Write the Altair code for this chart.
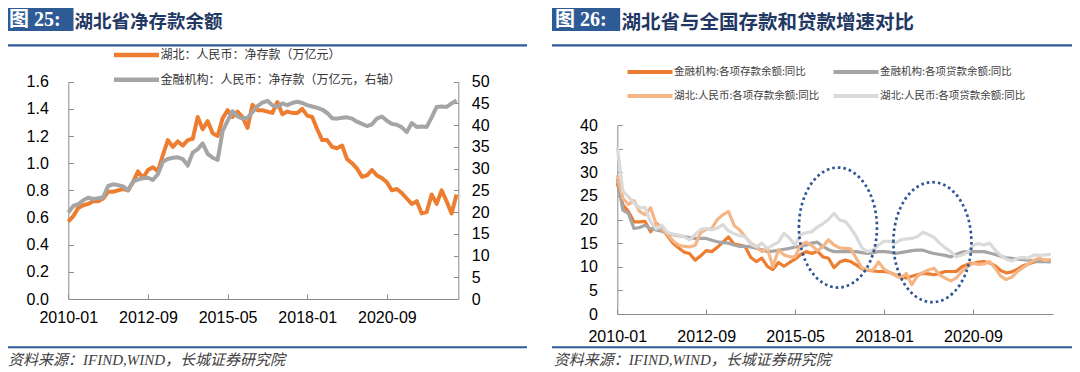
import altair as alt
import pandas as pd

# ---------------- data (one value every 2 months, starting 2010-01) ----------------
STEP_MONTHS = 2

# 湖北：人民币：净存款（万亿元） - left axis
hubei_net_deposit = [
    0.57, 0.61, 0.67, 0.69, 0.70, 0.72, 0.72, 0.74, 0.79, 0.79,
    0.80, 0.81, 0.80, 0.86, 0.94, 0.89, 0.95, 0.97, 0.94, 1.06,
    1.17, 1.12, 1.16, 1.13, 1.17, 1.18, 1.34, 1.25, 1.31, 1.22,
    1.20, 1.33, 1.39, 1.34, 1.38, 1.34, 1.26, 1.43, 1.39, 1.39,
    1.38, 1.37, 1.45, 1.36, 1.38, 1.37, 1.37, 1.40, 1.35, 1.34,
    1.25, 1.17, 1.17, 1.12, 1.11, 1.13, 1.03, 1.00, 0.96, 0.90,
    0.91, 0.95, 0.91, 0.89, 0.86, 0.80, 0.81, 0.78, 0.74, 0.70,
    0.72, 0.63, 0.64, 0.77, 0.70, 0.80, 0.72, 0.63, 0.77,
]
# 金融机构：人民币：净存款（万亿元，右轴）
fi_net_deposit = [
    19.9, 21.4, 21.8, 22.7, 23.3, 23.0, 23.2, 23.4, 26.0, 26.4,
    26.2, 25.9, 25.0, 27.0, 27.5, 27.8, 27.9, 27.4, 28.7, 31.6,
    32.2, 32.5, 32.6, 32.2, 30.7, 33.7, 34.5, 35.8, 33.4, 32.5,
    32.0, 38.6, 41.0, 43.2, 42.0, 41.5, 41.7, 43.0, 44.4, 45.2,
    45.6, 44.6, 44.2, 45.0, 44.6, 45.1, 45.4, 45.1, 44.6, 44.3,
    44.0, 43.6, 42.8, 41.6, 41.5, 41.7, 41.8, 41.5, 40.8, 40.3,
    39.8, 40.2, 41.5, 42.0, 41.0, 40.3, 40.1, 39.5, 38.4, 40.5,
    39.6, 39.7, 39.6, 41.8, 44.2, 44.3, 44.2, 45.0, 45.7,
]
# 金融机构:各项存款余额:同比
fi_deposit_yoy = [
    27.7, 23.1, 21.7, 19.5, 19.5, 19.6, 17.4, 19.2, 18.1, 16.6,
    15.0, 14.0, 13.1, 12.8, 11.4, 12.3, 13.4, 13.2, 14.1, 15.2,
    16.3, 14.8, 14.6, 14.3, 12.0, 11.1, 11.8, 10.1, 9.4, 10.9,
    10.1, 10.9, 11.6, 12.6, 13.2, 12.8, 13.3, 12.1, 11.8, 9.8,
    11.0, 11.4, 11.1, 10.4, 9.6, 9.3, 9.1, 9.0, 9.0, 8.8,
    8.3, 8.0, 7.6, 8.0, 8.3, 8.6, 8.5, 8.3, 8.6, 9.0,
    9.0, 9.0, 10.0, 10.5, 10.7, 11.0, 11.1, 10.8, 10.2, 9.2,
    8.7, 8.9, 9.5, 10.2, 10.6, 11.0, 11.2, 11.4, 11.3,
]
# 金融机构:各项贷款余额:同比
fi_loan_yoy = [
    28.7, 22.0, 21.3, 18.1, 18.3, 18.8, 18.0, 17.8, 17.5, 17.1,
    16.8, 16.6, 16.4, 16.2, 16.0, 16.0, 16.0, 15.6, 15.3, 15.1,
    15.0, 14.6, 14.3, 14.3, 14.2, 13.9, 13.6, 13.2, 13.3, 13.5,
    13.7, 13.9, 14.2, 14.3, 14.6, 15.0, 15.2, 14.3, 13.6, 13.2,
    13.2, 13.2, 13.2, 13.2, 13.0, 12.8, 13.0, 13.2, 13.2, 13.1,
    12.8, 13.0, 13.2, 13.4, 13.5, 13.5, 13.1, 12.8, 12.6, 12.4,
    12.1, 12.6, 13.1, 13.2, 13.2, 13.2, 13.2, 12.9, 12.6, 12.2,
    11.9, 11.8, 11.6, 11.5, 11.4, 11.2, 11.1, 11.1, 11.0,
]
# 湖北:人民币:各项存款余额:同比
hubei_deposit_yoy = [
    29.4, 24.5, 23.2, 24.0, 21.7, 21.0, 22.5, 19.0, 18.0, 16.9,
    15.5, 14.6, 14.3, 14.2, 14.5, 17.2, 17.9, 18.1, 20.0, 21.0,
    21.7, 18.8, 17.8, 16.4, 15.0, 14.3, 13.2, 13.9, 10.0, 13.6,
    12.5, 12.1, 12.1, 14.6, 15.2, 14.5, 13.4, 14.3, 15.7, 14.6,
    14.0, 13.9, 13.8, 11.8, 9.8, 9.3, 9.3, 11.0, 9.5, 8.8,
    8.2, 7.6, 8.6, 6.2, 8.0, 8.8, 9.3, 9.7, 8.3, 7.6,
    7.0, 7.6, 9.0, 10.0, 10.7, 10.5, 10.6, 11.1, 9.7, 8.0,
    7.3, 7.8, 9.0, 9.8, 10.6, 11.4, 11.8, 11.3, 11.6,
]
# 湖北:人民币:各项贷款余额:同比
hubei_loan_yoy = [
    35.4, 26.0, 24.8, 23.5, 22.5, 22.5, 19.5, 18.0, 18.8, 17.3,
    16.9, 16.7, 16.4, 15.7, 16.8, 17.9, 18.1, 17.8, 18.2, 18.9,
    17.6, 17.0, 16.6, 16.4, 14.8, 14.2, 15.0, 13.9, 14.6, 15.2,
    17.1, 16.0, 14.6, 16.8, 17.2, 17.4, 18.4, 19.1, 20.0, 21.3,
    19.9, 19.6, 18.2, 16.4, 14.0, 13.2, 13.5, 14.6, 15.4, 15.4,
    15.0, 15.7, 15.9, 16.0, 16.4, 17.3, 16.8, 16.2, 15.0, 14.0,
    13.2, 12.1, 12.5, 13.0, 14.5, 14.9, 14.6, 15.0, 13.5, 12.4,
    11.6, 11.2, 11.8, 12.0, 11.8, 12.5, 12.4, 12.5, 12.6,
]

LEFT_SERIES = ["湖北：人民币：净存款（万亿元）", "金融机构：人民币：净存款（万亿元，右轴）"]
RIGHT_SERIES = ["金融机构:各项存款余额:同比", "金融机构:各项贷款余额:同比",
                "湖北:人民币:各项存款余额:同比", "湖北:人民币:各项贷款余额:同比"]
LEFT_COLORS = ["#ED7D31", "#A5A5A5"]
RIGHT_COLORS = ["#ED7D31", "#A5A5A5", "#F5B687", "#DADADA"]
# legend fills column by column: col 1 = deposits, col 2 = loans
RIGHT_LEGEND_ORDER = [0, 2, 1, 3]

X_TICKS = [0, 32, 64, 96, 128]          # 2010-01, 2012-09, 2015-05, 2018-01, 2020-09
LEFT_Y_TICKS = [0.0, 0.2, 0.4, 0.6, 0.8, 1.0, 1.2, 1.4, 1.6]
LEFT_Y2_TICKS = [0, 5, 10, 15, 20, 25, 30, 35, 40, 45, 50]
RIGHT_Y_TICKS = [0, 5, 10, 15, 20, 25, 30, 35, 40]

# highlighted periods (month index, value) for the dotted ellipses
ELLIPSE_MONTH = [79.4, 113.4]
ELLIPSE_VALUE = [18.3, 15.2]

TITLE_LEFT_TAG = "图 25:"
TITLE_LEFT = "湖北省净存款余额"
TITLE_RIGHT_TAG = "图 26:"
TITLE_RIGHT = "湖北省与全国存款和贷款增速对比"
SOURCE = "资料来源：IFIND,WIND，长城证券研究院"

# ---------------- tables ----------------
n = len(hubei_net_deposit)
months = [i * STEP_MONTHS for i in range(n)]
left_df = pd.DataFrame({
    "m": months * 2,
    "series": [LEFT_SERIES[0]] * n + [LEFT_SERIES[1]] * n,
    "value": hubei_net_deposit + fi_net_deposit,
})
right_lists = [fi_deposit_yoy, fi_loan_yoy, hubei_deposit_yoy, hubei_loan_yoy]
right_df = pd.DataFrame({
    "m": months * 4,
    "series": [s for s in RIGHT_SERIES for _ in range(n)],
    "value": [v for lst in right_lists for v in lst],
})
ell_df = pd.DataFrame({"m": ELLIPSE_MONTH, "value": ELLIPSE_VALUE})
one = pd.DataFrame({"k": [0]})

# ---------------- geometry (chart px; page = chart + 8) ----------------
W, H = 1064, 364
L_X0, L_X1 = 60.3, 450.3
L_Y0, L_Y1 = 291.0, 73.7
R_X0, R_X1 = 609.3, 1045.0
R_Y0, R_Y1 = 306.0, 117.0

AX = "#8C8C8C"
LBL_FONT = "Liberation Sans"
CJK = "Noto Sans CJK SC"
NAVY = "#2E5A96"
MONTH_LABEL = ("(2010 + floor(datum.value / 12)) + '-' + "
               "((datum.value % 12) < 9 ? '0' : '') + ((datum.value % 12) + 1)")
ELLIPSE = "M -0.65 0 A 0.65 1 0 1 1 0.65 0 A 0.65 1 0 1 1 -0.65 0 Z"
# long horizontal legend line: 8 units wide; with size 126.6 -> r = 5.625 -> 45 px
LEGEND_LINE = "M -4 0 L 4 0"
LEGEND_LINE_SIZE = 126.6

lx_scale = alt.Scale(domain=[0, 156.7], range=[L_X0, L_X1], nice=False, zero=False)
ly_scale = alt.Scale(domain=[0, 1.6], range=[L_Y0, L_Y1], nice=False)
ly2_scale = alt.Scale(domain=[0, 50], range=[L_Y0, L_Y1], nice=False)
rx_scale = alt.Scale(domain=[0, 156.8], range=[R_X0, R_X1], nice=False, zero=False)
ry_scale = alt.Scale(domain=[0, 40], range=[R_Y0, R_Y1], nice=False)


def label_axis(orient, offset, values, pad, fmt=None, expr=None):
    kw = dict(orient=orient, offset=offset, values=values, ticks=False, domain=True,
              domainColor=AX, domainWidth=1, grid=False, labelFont=LBL_FONT,
              labelFontSize=16, labelColor="#000000", labelPadding=pad,
              labelFlush=False, labelOverlap=False)
    if fmt:
        kw["format"] = fmt
    if expr:
        kw["labelExpr"] = expr
    return alt.Axis(**kw)


def tick_axis(orient, offset, values):
    return alt.Axis(orient=orient, offset=offset, values=values, ticks=True, tickSize=5,
                    tickColor=AX, tickWidth=1, labels=False, domain=False, grid=False)


def axis_layer(df, channel, scale, axis):
    if channel == "x":
        return alt.Chart(df).mark_point(opacity=0).encode(
            x=alt.X("m:Q", scale=scale, title=None, axis=axis))
    return alt.Chart(df).mark_point(opacity=0).encode(
        y=alt.Y("value:Q", scale=scale, title=None, axis=axis))


# ---------------- left panel ----------------
left_legend = alt.Legend(orient="none", legendX=120.5, legendY=39, title=None,
                         symbolType=LEGEND_LINE, symbolSize=LEGEND_LINE_SIZE,
                         symbolStrokeWidth=4.5, labelFont=CJK, labelFontSize=12,
                         labelColor="#333333", labelLimit=400, labelOffset=16,
                         rowPadding=6.7, padding=0)
lc = alt.Color("series:N", scale=alt.Scale(domain=LEFT_SERIES, range=LEFT_COLORS),
               legend=left_legend)

left_orange = alt.Chart(left_df).transform_filter(
    alt.datum.series == LEFT_SERIES[0]
).mark_line(strokeWidth=4, strokeJoin="round").encode(
    x=alt.X("m:Q", scale=lx_scale, title=None, axis=None),
    y=alt.Y("value:Q", scale=ly_scale, title=None, axis=None),
    color=lc,
)
left_gray = alt.Chart(left_df).transform_filter(
    alt.datum.series == LEFT_SERIES[1]
).mark_line(strokeWidth=4, strokeJoin="round").encode(
    x=alt.X("m:Q", scale=lx_scale, title=None, axis=None),
    y=alt.Y("value:Q", scale=ly2_scale, title=None, axis=None),
    color=lc,
)
left_panel = alt.layer(left_orange, left_gray).resolve_scale(y="independent")

left_axes = [
    axis_layer(left_df, "x", lx_scale,
               label_axis("bottom", L_Y0 - H, X_TICKS, 10, expr=MONTH_LABEL)),
    axis_layer(left_df, "x", lx_scale, tick_axis("top", -L_Y0, X_TICKS)),
    axis_layer(left_df, "y", ly_scale,
               label_axis("left", -L_X0, LEFT_Y_TICKS, 20, fmt=".1f")),
    axis_layer(left_df, "y", ly_scale, tick_axis("right", L_X0 - W, LEFT_Y_TICKS)),
    axis_layer(left_df, "y", ly2_scale,
               label_axis("right", L_X1 - W, LEFT_Y2_TICKS, 13, fmt="d")),
    axis_layer(left_df, "y", ly2_scale, tick_axis("left", -L_X1, LEFT_Y2_TICKS)),
]

# ---------------- right panel ----------------
right_legend = alt.Legend(orient="none", legendX=634, legendY=56, title=None, columns=2,
                          columnPadding=5, rowPadding=8, symbolType=LEGEND_LINE,
                          symbolSize=LEGEND_LINE_SIZE, symbolStrokeWidth=4,
                          labelFont=CJK, labelFontSize=10.5, labelColor="#404040",
                          labelLimit=400, labelOffset=16, padding=0)
rc = alt.Color("series:N",
               scale=alt.Scale(domain=[RIGHT_SERIES[i] for i in RIGHT_LEGEND_ORDER],
                               range=[RIGHT_COLORS[i] for i in RIGHT_LEGEND_ORDER]),
               legend=right_legend)

right_layers = []
for s in RIGHT_SERIES:
    right_layers.append(
        alt.Chart(right_df).transform_filter(alt.datum.series == s)
        .mark_line(strokeWidth=3.2, strokeJoin="round").encode(
            x=alt.X("m:Q", scale=rx_scale, title=None, axis=None),
            y=alt.Y("value:Q", scale=ry_scale, title=None, axis=None),
            color=rc,
        )
    )
ellipses = alt.Chart(ell_df).mark_point(
    shape=ELLIPSE, size=14400, filled=False, opacity=1, stroke="#2E5596",
    strokeWidth=2.7, strokeDash=[2.6, 3.0]
).encode(
    x=alt.X("m:Q", scale=rx_scale, title=None, axis=None),
    y=alt.Y("value:Q", scale=ry_scale, title=None, axis=None),
)
right_panel = alt.layer(*right_layers, ellipses)

right_axes = [
    axis_layer(right_df, "x", rx_scale,
               label_axis("bottom", R_Y0 - H, X_TICKS, 14, expr=MONTH_LABEL)),
    axis_layer(right_df, "x", rx_scale, tick_axis("top", -R_Y0, X_TICKS)),
    axis_layer(right_df, "y", ry_scale,
               label_axis("left", -R_X0, RIGHT_Y_TICKS, 20, fmt="d")),
    axis_layer(right_df, "y", ry_scale, tick_axis("right", R_X0 - W, RIGHT_Y_TICKS)),
]


# ---------------- decorations ----------------
def rect(x1, x2, y1, y2, color):
    return alt.Chart(one).mark_rect(color=color).encode(
        x=alt.value(x1), x2=alt.value(x2), y=alt.value(y1), y2=alt.value(y2))


def hrule(x1, x2, y, color, w):
    return alt.Chart(one).mark_rule(color=color, strokeWidth=w).encode(
        x=alt.value(x1), x2=alt.value(x2), y=alt.value(y))


def label(t, x, y, size, color, font, weight="normal", style="normal"):
    return alt.Chart(one).mark_text(
        text=t, align="left", baseline="middle", fontSize=size, color=color,
        font=font, fontWeight=weight, fontStyle=style
    ).encode(x=alt.value(x), y=alt.value(y))


TAG_FONT = "Liberation Serif, " + CJK
SRC_FONT = "Liberation Serif, " + CJK
decor = [
    rect(0, 65.5, 0, 23, NAVY),
    rect(544, 612.2, 0, 23, NAVY),
    label(TITLE_LEFT_TAG, 1, 11.5, 20, "#FFFFFF", TAG_FONT, weight="bold"),
    label(TITLE_RIGHT_TAG, 547, 11.5, 20, "#FFFFFF", TAG_FONT, weight="bold"),
    label(TITLE_LEFT, 66.5, 13.5, 18.5, "#1F3864", CJK, weight="bold"),
    label(TITLE_RIGHT, 613.5, 15, 19.5, "#1F3864", CJK, weight="bold"),
    hrule(0, 519, 37.3, NAVY, 2.2),
    hrule(544, 1066, 37.3, NAVY, 2.2),
    hrule(0, 519, 339.2, NAVY, 2),
    hrule(544, 1066, 339.2, NAVY, 2),
    label(SOURCE, 0, 352, 15, "#404040", SRC_FONT, style="italic"),
    label(SOURCE, 545.8, 352, 15, "#404040", SRC_FONT, style="italic"),
]

chart = alt.layer(
    left_panel, *left_axes, right_panel, *right_axes, *decor
).resolve_scale(
    x="independent", y="independent", color="independent"
).properties(
    width=W, height=H, autosize=alt.AutoSizeParams(type="none"), padding=0,
    background="white"
).configure_view(stroke="transparent")

chart.save("out.html", embed_options={"renderer": "svg", "actions": False})
